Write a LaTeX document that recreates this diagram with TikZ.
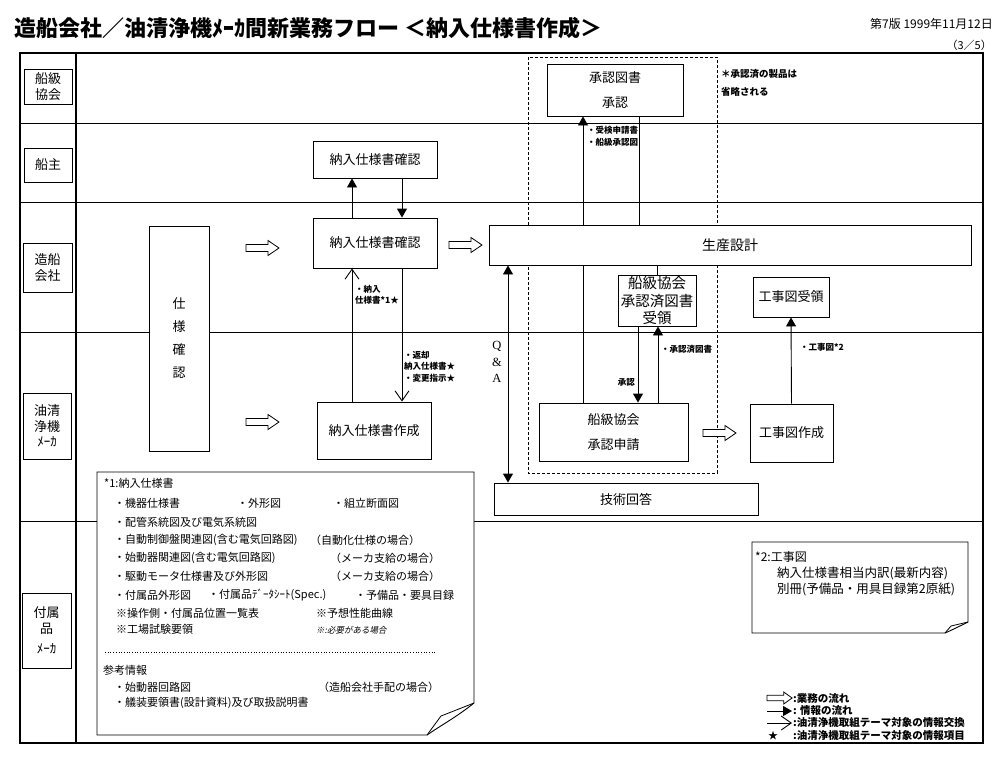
\documentclass[tikz,border=0pt]{standalone}
\usepackage{fontspec}
\setmainfont{Noto Sans CJK JP}
\newfontfamily\slantjp[FakeSlant=0.2]{Noto Sans CJK JP}
\newfontfamily\qafont{Liberation Serif}
\usetikzlibrary{arrows.meta}
\newcommand\setfs[2]{\fontsize{#1}{#2}\selectfont}
\tikzset{
  frame/.style={line width=1.2pt},
  lane/.style={line width=0.8pt},
  box/.style={draw, line width=0.9pt, fill=white, inner sep=0pt, align=center,
              font=\setfs{13}{16}},
  lanebox/.style={box, font=\setfs{13}{15.5}},
  info/.style={line width=0.9pt, -{Triangle[length=9pt,width=10pt]}},
  exch/.style={line width=0.9pt, -{Straight Barb[length=10pt,width=14pt,line width=0.9pt]}},
  link/.style={line width=0.9pt},
  lbl/.style={font=\bfseries\setfs{8.5}{11.5}, align=left, inner sep=0pt},
  txt/.style={font=\setfs{11}{13}, anchor=west, inner sep=0pt},
  legtxt/.style={txt, font=\bfseries\setfs{10.5}{12}},
  note/.style={draw, line width=0.9pt, fill=white},
  bizflow/.pic={\draw[line width=0.8pt, fill=white]
    (0,-3.5) -- (22,-3.5) -- (22,-7.5) -- (33,0) -- (22,7.5) -- (22,3.5) -- (0,3.5) -- cycle;},
}

\begin{document}
\begin{tikzpicture}[x=1pt, y=-1pt]
\useasboundingbox (0,0) rectangle (1000,766);

% ------------------------------------------------------------------ header
\node[font=\bfseries\setfs{22}{24}, anchor=west, inner sep=0pt] (title) at (14,28)
  {造船会社／油清浄機ﾒｰｶ間新業務フロー ＜納入仕様書作成＞};
\node[font=\setfs{12}{14}, anchor=east, inner sep=0pt] (edition) at (993,24) {第7版 1999年11月12日};
\node[font=\setfs{11}{13}, anchor=east, inner sep=0pt] (page) at (992,45) {（3／5）};

% ------------------------------------------------------------------ lanes
\draw[frame] (20,53) rectangle (983,743);
\draw[frame] (76,53) -- (76,743);
\foreach \y in {123,202,332,521}
  \draw[lane] (20,\y) -- (983,\y);

\node[lanebox, minimum width=48, minimum height=35] (lblClass)    at (48,86.5)  {船級\\協会};
\node[lanebox, minimum width=48, minimum height=34] (lblOwner)    at (48,165)   {船主};
\node[lanebox, minimum width=49, minimum height=49] (lblYard)     at (47.5,267.5) {造船\\会社};
\node[lanebox, minimum width=48, minimum height=66] (lblPurifier) at (47,426)   {油清\\浄機\\ﾒｰｶ};
\node[lanebox, minimum width=49, minimum height=75] (lblParts)    at (46.5,630.5) {付属\\品\\[5pt]ﾒｰｶ};

% approved-class group
\draw[dashed, line width=0.9pt, dash pattern=on 3pt off 2pt] (528,57) rectangle (717,473);
\node[lbl, anchor=north west, font=\bfseries\setfs{9.5}{18}] (omit) at (721,69) {＊承認済の製品は\\省略される};

% ------------------------------------------------------------------ boxes
\node[box, minimum width=60, minimum height=225] (spec) at (179,338.5)
  {仕\\[7pt]様\\[7pt]確\\[7pt]認};
\node[box, minimum width=124, minimum height=37] (chkOwner) at (375,159.5) {納入仕様書確認};
\node[box, minimum width=124, minimum height=50] (chkYard)  at (375,243)   {納入仕様書確認};
\node[box, minimum width=114, minimum height=57] (makeSpec) at (374,430.5) {納入仕様書作成};
\node[box, minimum width=482, minimum height=40, font=\setfs{14}{16}] (prodDesign) at (730,245) {生産設計};
\node[box, minimum width=136, minimum height=52] (apprDoc)  at (615,90)  {承認図書\\[9pt]承認};
\node[box, minimum width=78, minimum height=51, font=\setfs{14.5}{17.5}] (recvAppr) at (657,300.5)
  {船級協会\\承認済図書\\受領};
\node[box, minimum width=149, minimum height=58] (applyClass) at (613.5,432) {船級協会\\[9pt]承認申請};
\node[box, minimum width=83, minimum height=58]  (drawMake) at (791.5,433) {工事図作成};
\node[box, minimum width=76, minimum height=40]  (drawRecv) at (791,297)   {工事図受領};
\node[box, minimum width=264, minimum height=32] (techAns)  at (626,499)   {技術回答};

% business flow
\pic at (246,248) {bizflow};
\pic at (246,422) {bizflow};
\pic at (449,245) {bizflow};
\pic at (703,433) {bizflow};

% ------------------------------------------------------------------ information flow
\draw[info] (chkYard.north -| 352,0) -- (chkOwner.south -| 352,0);
\draw[info] (chkOwner.south -| 402,0) -- (chkYard.north -| 402,0);
\draw[exch] (makeSpec.north -| 352,0) -- (chkYard.south -| 352,0);
\draw[exch] (chkYard.south -| 402,0) -- (makeSpec.north -| 402,0);
\node[lbl, anchor=north west] (lSpec) at (355,285) {・納入\\仕様書*1★};
\node[lbl, anchor=north west] (lBack) at (404,351) {・返却\\納入仕様書★\\・変更指示★};

\draw[line width=0.9pt, {Triangle[length=9pt,width=10pt]}-{Triangle[length=9pt,width=10pt]}]
  (prodDesign.south -| 508,0) -- (techAns.north -| 508,0);
\node[font=\qafont\setfs{12.5}{16.5}, align=center, inner sep=0pt] (qa) at (497,362) {Q\\\&\\A};

\draw[info] (prodDesign.north -| 583,0) -- (apprDoc.south -| 583,0);
\draw[link] (apprDoc.south -| 639,0) -- (prodDesign.north -| 639,0);
\node[lbl, anchor=north west] (lReq) at (587,126) {・受検申請書\\・船級承認図};
\draw[link] (prodDesign.south -| 583,0) -- (applyClass.north -| 583,0);
\draw[link] (prodDesign.south -| 657,0) -- (recvAppr.north);
\draw[info] (recvAppr.south -| 638,0) -- (applyClass.north -| 638,0);
\draw[info] (applyClass.north -| 658,0) -- (recvAppr.south -| 658,0);
\node[lbl, anchor=east] (lOk) at (635,382) {承認};
\node[lbl, anchor=west] (lDone) at (661,349) {・承認済図書};

\draw[info] (drawMake.north) -- (drawRecv.south);
\node[lbl, anchor=west] (lDraw) at (800,347) {・工事図*2};

% ------------------------------------------------------------------ note *1
\draw[note] (97,472) -- (474,472) -- (474,703) .. controls (458,716) and (440,726) .. (427,735)
  -- (97,735) -- cycle;
\draw[line width=0.8pt] (474,703) -- (441,716) -- (427,735);
\foreach \x/\y/\t in {
  104/483/{*1:納入仕様書},
  114/503/{・機器仕様書}, 237/503/{・外形図}, 333/503/{・組立断面図},
  114/522/{・配管系統図及び電気系統図},
  114/540/{・自動制御盤関連図(含む電気回路図)}, 310/540/{（自動化仕様の場合）},
  114/558/{・始動器関連図(含む電気回路図)}, 330/558/{（メーカ支給の場合）},
  114/576/{・駆動モータ仕様書及び外形図}, 330/576/{（メーカ支給の場合）},
  114/595/{・付属品外形図}, 208/595/{・付属品ﾃﾞｰﾀｼｰﾄ(Spec.)}, 355/595/{・予備品・要具目録},
  116/613/{※操作側・付属品位置一覧表}, 316/613/{※予想性能曲線},
  116/629/{※工場試験要領},
  103/670/{参考情報},
  114/687/{・始動器回路図}, 318/687/{（造船会社手配の場合）},
  114/703/{・艤装要領書(設計資料)及び取扱説明書}}
  \node[txt] at (\x,\y) {\t};
\node[txt, font=\slantjp\setfs{8.5}{10}] (need) at (316,630) {※:必要がある場合};
\draw[dotted, line width=0.7pt] (105,652) -- (435,652);

% ------------------------------------------------------------------ note *2
\draw[note] (752,542) -- (968,542) -- (968,622) .. controls (960,626) and (952,630) .. (945,633)
  -- (752,633) -- cycle;
\draw[line width=0.8pt] (968,622) -- (951,626) -- (945,633);
\node[txt, font=\setfs{12}{14}] (n2a) at (755,557) {*2:工事図};
\node[txt, font=\setfs{12.5}{14}] (n2b) at (777,573) {納入仕様書相当内訳(最新内容)};
\node[txt, font=\setfs{12.5}{14}] (n2c) at (777,589) {別冊(予備品・用具目録第2原紙)};

% ------------------------------------------------------------------ legend
\coordinate (lgA) at (767,711);
\coordinate (lgB) at (792,711);
\coordinate (lgC) at (767,723);
\coordinate (lgD) at (792,723);
\pic[xscale=0.76, yscale=0.8] at (767,698) {bizflow};
\draw[info] (lgA) -- (lgB);
\draw[exch] (lgC) -- (lgD);
\node[font=\setfs{10}{12}, inner sep=0pt] (lgStar) at (773,736) {★};
\node[legtxt] (lg1) at (793,698) {:業務の流れ};
\node[legtxt] (lg2) at (793,711) {: 情報の流れ};
\node[legtxt] (lg3) at (793,723) {:油清浄機取組テーマ対象の情報交換};
\node[legtxt] (lg4) at (793,736) {:油清浄機取組テーマ対象の情報項目};

\end{tikzpicture}
\end{document}
